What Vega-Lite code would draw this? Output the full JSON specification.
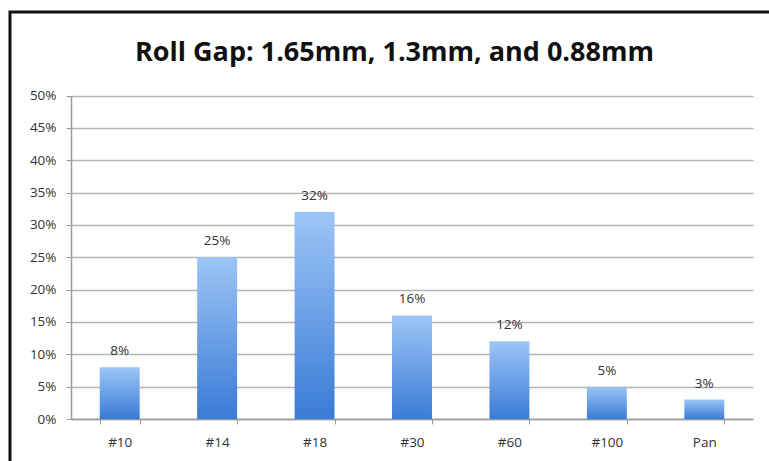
{
  "$schema": "https://vega.github.io/schema/vega-lite/v6.json",
  "autosize": "none",
  "padding": {"left": 10, "top": 12, "right": -10, "bottom": -10},
  "width": 769,
  "height": 459,
  "background": "white",
  "title": {
    "text": "Roll Gap: 1.65mm, 1.3mm, and 0.88mm",
    "font": "Open Sans",
    "fontSize": 27,
    "fontWeight": "bold",
    "color": "#111111",
    "anchor": "start",
    "baseline": "alphabetic",
    "offset": -76,
    "dx": 125
  },
  "data": {
    "values": [
      {"sieve": "#10", "share": 0.08},
      {"sieve": "#14", "share": 0.25},
      {"sieve": "#18", "share": 0.32},
      {"sieve": "#30", "share": 0.16},
      {"sieve": "#60", "share": 0.12},
      {"sieve": "#100", "share": 0.05},
      {"sieve": "Pan", "share": 0.03}
    ]
  },
  "encoding": {
    "x": {
      "field": "sieve",
      "type": "nominal",
      "sort": null,
      "title": null,
      "scale": {"range": [61, 743], "paddingInner": 0.59, "paddingOuter": 0.295},
      "axis": {
        "offset": -52,
        "tickBand": "extent",
        "labelAngle": 0,
        "labelFont": "Open Sans",
        "labelFontSize": 13.5,
        "labelColor": "#333333",
        "labelPadding": 11,
        "domainColor": "#999999",
        "domainWidth": 1.5,
        "tickColor": "#999999",
        "tickSize": 5,
        "grid": false
      }
    },
    "y": {
      "field": "share",
      "type": "quantitative",
      "title": null,
      "scale": {"domain": [0, 0.5], "range": [407, 83.5], "nice": false},
      "axis": {
        "offset": -61,
        "values": [0, 0.05, 0.1, 0.15, 0.2, 0.25, 0.3, 0.35, 0.4, 0.45, 0.5],
        "format": ".0%",
        "labelFont": "Open Sans",
        "labelFontSize": 13.5,
        "labelColor": "#333333",
        "labelPadding": 10,
        "domainColor": "#999999",
        "domainWidth": 1.5,
        "tickColor": "#999999",
        "tickSize": 5,
        "grid": true,
        "gridColor": "#b4b4b4",
        "gridWidth": 1.5
      }
    }
  },
  "layer": [
    {
      "mark": {
        "type": "bar",
        "color": {
          "gradient": "linear",
          "x1": 0, "y1": 0, "x2": 0, "y2": 1,
          "stops": [
            {"offset": 0, "color": "#9dc5f6"},
            {"offset": 1, "color": "#3a7bd6"}
          ]
        }
      }
    },
    {
      "mark": {
        "type": "text",
        "baseline": "bottom",
        "dy": -9,
        "font": "Open Sans",
        "fontSize": 13.5,
        "color": "#333333"
      },
      "encoding": {
        "text": {"field": "share", "type": "quantitative", "format": ".0%"}
      }
    }
  ],
  "config": {
    "view": {
      "stroke": "#111111",
      "strokeWidth": 3,
      "strokeCap": "square",
      "strokeDash": [769, 1228, 459, 0]
    }
  }
}
